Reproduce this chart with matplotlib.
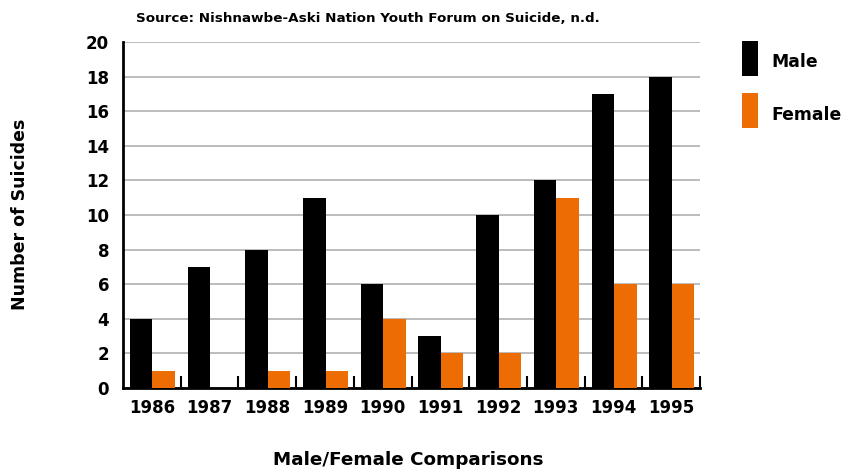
import matplotlib
matplotlib.use("Agg")
import matplotlib.pyplot as plt
from matplotlib.patches import Rectangle
import numpy as np

years = ["1986", "1987", "1988", "1989", "1990", "1991", "1992", "1993", "1994", "1995"]
male = [4, 7, 8, 11, 6, 3, 10, 12, 17, 18]
female = [1, 0, 1, 1, 4, 2, 2, 11, 6, 6]
yticks = [0, 2, 4, 6, 8, 10, 12, 14, 16, 18, 20]

male_color = "#000000"
female_color = "#ee6c04"

fig = plt.figure(figsize=(8.43, 4.72), dpi=100)
ax = fig.add_axes([123/843, 1-388/472, (700-123)/843, (388-42)/472])

x = np.arange(len(years))
w = 0.39
ax.bar(x + 0.12, male, width=w, align="edge", color=male_color, zorder=3)
ax.bar(x + 0.12 + w, female, width=w, align="edge", color=female_color, zorder=3)

ax.set_xlim(0, len(years))
ax.set_ylim(0, 20)
ax.set_yticks(yticks)
ax.set_yticklabels([str(t) for t in yticks], fontsize=12, fontweight="bold")
ax.tick_params(axis="y", length=0, pad=10)
ax.set_xticks(x + 0.5)
ax.set_xticklabels(years, fontsize=12, fontweight="bold")
ax.tick_params(axis="x", which="major", length=0, pad=8)
ax.set_xticks(np.arange(1, len(years) + 1), minor=True)
ax.tick_params(axis="x", which="minor", direction="in", length=9, width=1.5, color="black")

ax.grid(axis="y", color="#b0b0b0", linewidth=1.2, zorder=0)
for s in ["top", "right"]:
    ax.spines[s].set_visible(False)
ax.spines["left"].set_linewidth(2)
ax.spines["bottom"].set_linewidth(2)

fig.text(368/843, 1-18/472, "Source: Nishnawbe-Aski Nation Youth Forum on Suicide, n.d.",
         ha="center", va="center", fontsize=9.7, fontweight="bold")
fig.text(20/843, 1-214/472, "Number of Suicides", rotation=90, ha="center", va="center",
         fontsize=12.5, fontweight="bold")
fig.text(408/843, 1-460/472, "Male/Female Comparisons", ha="center", va="center",
         fontsize=13.2, fontweight="bold")

# legend
fig.patches.append(Rectangle((742/843, 1-76/472), 16/843, 35/472, transform=fig.transFigure,
                             facecolor=male_color, edgecolor="none"))
fig.patches.append(Rectangle((742/843, 1-128/472), 16/843, 35/472, transform=fig.transFigure,
                             facecolor=female_color, edgecolor="none"))
fig.text(771/843, 1-62/472, "Male", ha="left", va="center", fontsize=12.4, fontweight="bold")
fig.text(771/843, 1-115/472, "Female", ha="left", va="center", fontsize=12.4, fontweight="bold")

fig.savefig("out.png", dpi=100)
